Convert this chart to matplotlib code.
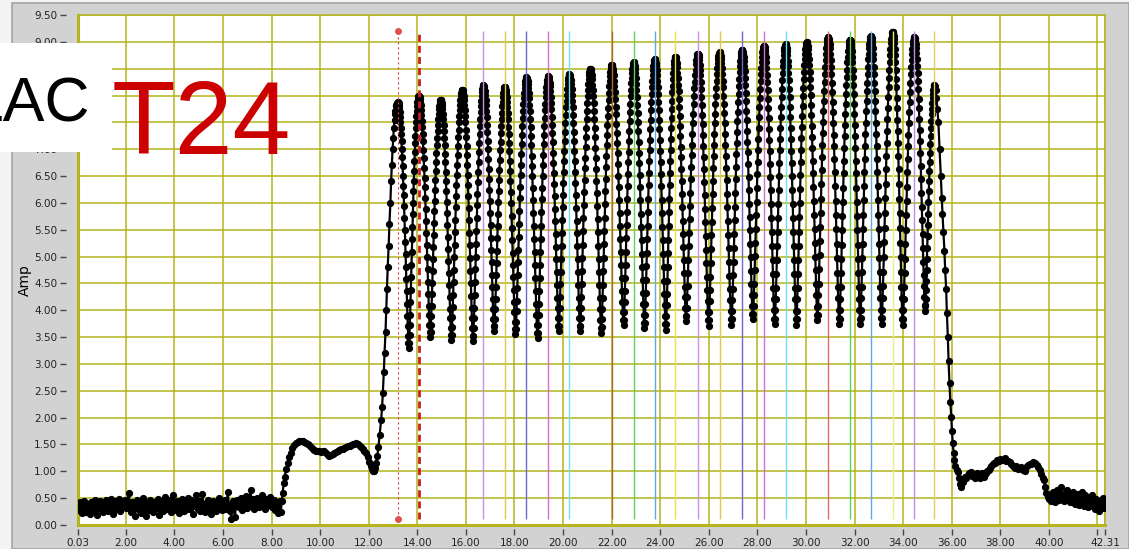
import numpy as np
import matplotlib
matplotlib.use("Agg")
import matplotlib.pyplot as plt
from matplotlib.patches import Rectangle

W, H = 1129, 549

# ---- data ----
# baseline noise, 0.03 .. 8.33, one reading every ~0.05
base_y = [0.38, 0.28, 0.42, 0.22, 0.35, 0.45, 0.30, 0.25, 0.40, 0.33,
          0.20, 0.43, 0.36, 0.27, 0.46, 0.31, 0.18, 0.39, 0.44, 0.29,
          0.35, 0.24, 0.41, 0.47, 0.32, 0.26, 0.38, 0.49, 0.34, 0.21,
          0.40, 0.45, 0.30, 0.36, 0.48, 0.27, 0.42, 0.33, 0.39, 0.46,
          0.31, 0.44, 0.60, 0.35, 0.25, 0.42, 0.38, 0.17, 0.40, 0.47,
          0.30, 0.36, 0.22, 0.45, 0.50, 0.33, 0.16, 0.41, 0.37, 0.28,
          0.46, 0.34, 0.24, 0.43, 0.39, 0.31, 0.48, 0.19, 0.36, 0.44,
          0.27, 0.41, 0.52, 0.35, 0.30, 0.46, 0.38, 0.25, 0.43, 0.56,
          0.33, 0.28, 0.45, 0.37, 0.22, 0.40, 0.48, 0.31, 0.26, 0.43,
          0.36, 0.51, 0.29, 0.39, 0.46, 0.21, 0.42, 0.35, 0.55, 0.30,
          0.44, 0.27, 0.38, 0.58, 0.33, 0.24, 0.41, 0.36, 0.47, 0.29,
          0.20, 0.39, 0.45, 0.32, 0.26, 0.43, 0.37, 0.50, 0.34, 0.28,
          0.41, 0.35, 0.46, 0.30, 0.62, 0.38, 0.27, 0.12, 0.44, 0.36,
          0.15, 0.40, 0.47, 0.33, 0.39, 0.50, 0.28, 0.43, 0.37, 0.54,
          0.31, 0.45, 0.40, 0.66, 0.35, 0.48, 0.29, 0.42, 0.51, 0.38,
          0.33, 0.46, 0.55, 0.36, 0.41, 0.30, 0.49, 0.44, 0.37, 0.52,
          0.40, 0.33, 0.47, 0.28, 0.42, 0.36, 0.22, 0.45]

# step up, hump, and first rising edge
hump_x = [8.38, 8.42, 8.45, 8.50, 8.54, 8.60, 8.66, 8.72, 8.79, 8.86,
          8.93, 9.00, 9.07, 9.14, 9.21, 9.28, 9.35, 9.42, 9.49, 9.55,
          9.62, 9.69, 9.76, 9.83, 9.90, 9.96, 10.03, 10.10, 10.17, 10.24,
          10.31, 10.38, 10.44, 10.51, 10.58, 10.65, 10.72, 10.79, 10.86, 10.93,
          11.00, 11.07, 11.14, 11.21, 11.27, 11.34, 11.41, 11.48, 11.55, 11.62,
          11.68, 11.75, 11.82, 11.89, 11.96, 12.03, 12.08, 12.12, 12.16, 12.20,
          12.25, 12.30, 12.35, 12.40, 12.45, 12.51, 12.55, 12.58, 12.62, 12.65,
          12.69, 12.72, 12.75, 12.78, 12.82, 12.85, 12.89, 12.92, 12.95, 12.98,
          13.01, 13.03, 13.06, 13.08, 13.10, 13.12, 13.14, 13.16, 13.18]
hump_y = [0.25, 0.45, 0.59, 0.78, 0.90, 1.05, 1.15, 1.26, 1.34, 1.43,
          1.49, 1.53, 1.55, 1.56, 1.57, 1.56, 1.55, 1.53, 1.50, 1.49,
          1.46, 1.42, 1.40, 1.38, 1.37, 1.37, 1.36, 1.38, 1.37, 1.34,
          1.31, 1.28, 1.30, 1.33, 1.35, 1.36, 1.37, 1.40, 1.41, 1.42,
          1.43, 1.45, 1.47, 1.48, 1.49, 1.50, 1.51, 1.52, 1.50, 1.48,
          1.46, 1.42, 1.38, 1.34, 1.26, 1.18, 1.10, 1.04, 1.00, 1.01,
          1.07, 1.15, 1.28, 1.46, 1.68, 1.96, 2.20, 2.46, 2.85, 3.20,
          3.60, 4.00, 4.40, 4.80, 5.20, 5.60, 6.00, 6.40, 6.70, 7.00,
          7.20, 7.40, 7.55, 7.65, 7.72, 7.80, 7.83, 7.86, 7.87]

# oscillation: peaks and troughs
peak_x = [13.20, 14.06, 14.96, 15.85, 16.72, 17.60, 18.49, 19.39, 20.26, 21.12,
          22.00, 22.90, 23.77, 24.62, 25.55, 26.44, 27.37, 28.27, 29.16, 30.03,
          30.91, 31.81, 32.67, 33.57, 34.46, 35.29]
peak_y = [7.88, 8.00, 7.92, 8.11, 8.19, 8.16, 8.34, 8.36, 8.40, 8.50,
          8.57, 8.62, 8.68, 8.72, 8.78, 8.81, 8.85, 8.93, 8.96, 8.99,
          9.09, 9.04, 9.10, 9.19, 9.09, 8.20]
trough_x = [13.65, 14.53, 15.40, 16.29, 17.16, 18.04, 18.95, 19.82, 20.70, 21.57,
            22.49, 23.35, 24.23, 25.06, 25.99, 26.93, 27.81, 28.71, 29.60, 30.47,
            31.37, 32.23, 33.11, 33.98, 34.90]
trough_y = [3.30, 3.50, 3.45, 3.43, 3.61, 3.55, 3.48, 3.62, 3.61, 3.58,
            3.72, 3.67, 3.64, 3.80, 3.71, 3.73, 3.83, 3.74, 3.73, 3.81,
            3.74, 3.74, 3.74, 3.73, 3.99]

# sample layout of one edge (trough -> peak), read from a single cycle
edge_phase = [0.000, 0.033, 0.067, 0.100, 0.133, 0.167, 0.200, 0.233, 0.267, 0.300,
              0.333, 0.367, 0.400, 0.433, 0.467, 0.500, 0.533, 0.567, 0.600, 0.633,
              0.667, 0.700, 0.733, 0.767, 0.800, 0.833, 0.867, 0.900, 0.933, 0.967,
              1.000]
edge_level = [0.000, 0.020, 0.050, 0.090, 0.130, 0.180, 0.230, 0.280, 0.330, 0.380,
              0.430, 0.480, 0.530, 0.575, 0.620, 0.660, 0.700, 0.740, 0.775, 0.810,
              0.840, 0.870, 0.895, 0.920, 0.940, 0.960, 0.975, 0.986, 0.994, 0.998,
              1.000]

# last falling edge and the step down
fall_x = [35.31, 35.34, 35.37, 35.41, 35.45, 35.50, 35.55, 35.59, 35.62, 35.66,
          35.70, 35.73, 35.77, 35.80, 35.84, 35.87, 35.91, 35.94, 35.98, 36.01,
          36.04, 36.08, 36.11, 36.15, 36.20, 36.25, 36.30, 36.35, 36.39, 36.45,
          36.50, 36.55, 36.60, 36.65, 36.70, 36.75, 36.80, 36.85, 36.90, 36.95,
          37.00, 37.05, 37.10, 37.15, 37.21, 37.26, 37.31, 37.36, 37.42, 37.47,
          37.52, 37.57, 37.63, 37.68, 37.73, 37.78, 37.83, 37.88, 37.93, 37.98,
          38.04, 38.11, 38.18, 38.25, 38.31, 38.38, 38.45, 38.52, 38.59, 38.66,
          38.73, 38.80, 38.87, 38.94, 39.00, 39.07, 39.14, 39.21, 39.28, 39.35,
          39.42, 39.49, 39.55, 39.62, 39.68, 39.74, 39.79, 39.85]
fall_y = [8.18, 8.10, 7.95, 7.75, 7.50, 7.00, 6.50, 6.10, 5.80, 5.45,
          5.10, 4.75, 4.40, 3.95, 3.50, 3.05, 2.64, 2.30, 2.02, 1.75,
          1.53, 1.35, 1.21, 1.10, 1.02, 0.99, 0.88, 0.76, 0.71, 0.80,
          0.86, 0.90, 0.88, 0.94, 0.97, 0.93, 0.99, 0.92, 0.95, 0.88,
          0.90, 0.96, 0.91, 0.88, 0.93, 0.97, 0.90, 0.95, 0.96, 1.00,
          1.03, 1.06, 1.09, 1.13, 1.15, 1.16, 1.18, 1.21, 1.19, 1.23,
          1.21, 1.22, 1.24, 1.20, 1.19, 1.18, 1.13, 1.10, 1.07, 1.09,
          1.04, 1.06, 1.08, 1.03, 1.01, 1.08, 1.12, 1.14, 1.13, 1.17,
          1.16, 1.12, 1.08, 1.02, 0.95, 0.88, 0.84, 0.70]

# noisy tail, 39.90 .. 42.31
tail_y = [0.59, 0.52, 0.48, 0.55, 0.45, 0.62, 0.50, 0.43, 0.58, 0.66,
          0.47, 0.55, 0.70, 0.52, 0.44, 0.60, 0.49, 0.65, 0.53, 0.42,
          0.57, 0.48, 0.61, 0.40, 0.52, 0.45, 0.58, 0.38, 0.50, 0.62,
          0.43, 0.36, 0.55, 0.47, 0.33, 0.50, 0.41, 0.56, 0.35, 0.45,
          0.30, 0.48, 0.38, 0.27, 0.44, 0.36, 0.50, 0.32, 0.41]

# cursors
cursor_x = [16.72, 17.60, 18.49, 19.39, 20.26, 22.00, 22.90, 23.77, 24.62, 25.55,
            26.44, 27.37, 28.27, 29.16, 30.91, 31.81, 32.67, 33.57, 34.46, 35.29]
cursor_lo, cursor_hi = 0.12, 9.20
dotted_cursor = 13.21
dashed_cursor = 14.06

xtick_vals = [0.03] + list(range(2, 42, 2)) + [42, 42.31]
xtick_text = ["0.03"] + ["%.2f" % v for v in range(2, 42, 2)] + ["", "42.31"]
ytick_vals = [i * 0.5 for i in range(20)]
# labels 7.50 .. 8.50 sit under the white name box in the screenshot
ytick_text = ["" if 7.4 < v < 8.6 else "%.2f" % v for v in ytick_vals]

# ---- styles ----
cursor_colors = ['#c890e8', '#e0c850', '#6a6ad0', '#d070c8', '#70e0f0',
                 '#b06a30', '#60d060', '#60a8e8', '#e8e050', '#c890e8',
                 '#e0c850', '#6a6ad0', '#d070c8', '#70e0f0', '#e06868',
                 '#60d060', '#60a8e8', '#eeee80', '#b890e8', '#e0d060']
grid_c = '#b4b41e'

# ---- assemble the trace ----
phase = np.array(edge_phase)
level = np.array(edge_level)
wx, wy = [], []
for i in range(len(peak_x) - 1):
    xs = trough_x[i] + (peak_x[i] - trough_x[i]) * phase
    ys = trough_y[i] + (peak_y[i] - trough_y[i]) * level
    wx += list(xs[::-1])
    wy += list(ys[::-1])
    xs = trough_x[i] + (peak_x[i + 1] - trough_x[i]) * phase
    ys = trough_y[i] + (peak_y[i + 1] - trough_y[i]) * level
    wx += list(xs[1:])
    wy += list(ys[1:])

base_x = np.linspace(0.03, 8.33, len(base_y))
tail_x = np.linspace(39.90, 42.31, len(tail_y))
x = np.concatenate([base_x, hump_x, wx, fall_x, tail_x])
y = np.concatenate([base_y, hump_y, wy, fall_y, tail_y])

# ---- figure ----
fig = plt.figure(figsize=(W / 100, H / 100), dpi=100)
fig.patch.set_facecolor('#f4f4f4')
fig.add_artist(Rectangle((12 / W, 0), 1 - 12 / W, 1 - 3 / H, transform=fig.transFigure,
                         facecolor='#d2d2d2', edgecolor='#a4a4a4', lw=1.2, zorder=-1))

ax = fig.add_axes([78 / W, 24 / H, (1105 - 78) / W, (525 - 15) / H])
ax.set_facecolor('white')
ax.set_xlim(0.03, 42.31)
ax.set_ylim(0, 9.5)

ax.set_xticks(xtick_vals)
ax.set_xticklabels(xtick_text)
ax.set_yticks(ytick_vals)
ax.set_yticklabels(ytick_text)
ax.grid(True, color=grid_c, lw=1.1, zorder=0)
ax.set_axisbelow(True)

ax.spines['left'].set_position(('outward', 9))
ax.spines['bottom'].set_position(('outward', 3))
ax.spines['left'].set_color('none')
ax.spines['bottom'].set_color('none')
for s in ['top', 'right']:
    ax.spines[s].set_color(grid_c)
    ax.spines[s].set_linewidth(1.1)
ax.axvline(0.03, color=grid_c, lw=2.2, clip_on=False, zorder=1)
ax.axhline(0, color=grid_c, lw=2.2, clip_on=False, zorder=1)

ax.tick_params(axis='both', direction='out', length=4, width=1, color='#444444',
               labelsize=7.5, labelcolor='#222222')
ax.tick_params(axis='y', pad=2)
ax.tick_params(axis='x', pad=2)

# cursors
ax.vlines(cursor_x, cursor_lo, cursor_hi, colors=cursor_colors, lw=1.0, zorder=4)
ax.vlines(dotted_cursor, cursor_lo, cursor_hi, colors='#d04848', lw=0.8,
          linestyles=(0, (2, 2.5)), zorder=4)
ax.plot([dotted_cursor, dotted_cursor], [cursor_lo, cursor_hi], ls='none',
        marker='o', ms=4, color='#e05050', zorder=5)
ax.vlines(dashed_cursor, cursor_lo, cursor_hi, colors='#c82020', lw=2.0,
          linestyles=(0, (2.5, 1.5)), zorder=4)

ax.plot(x, y, color='black', lw=1.6, marker='o', ms=4.2, zorder=3)

fig.text(25 / W, 1 - 280 / H, 'Amp', rotation=90, ha='center', va='center',
         fontsize=10, color='black')

# overlay label
fig.add_artist(Rectangle((0, 1 - 152 / H), 112 / W, 109 / H, transform=fig.transFigure,
                         facecolor='white', edgecolor='none', zorder=5))
fig.text(90 / W, 1 - 122 / H, 'LAC', fontsize=45, family='Liberation Sans',
         ha='right', va='baseline', color='black', zorder=6)
fig.text(112 / W, 1 - 154 / H, 'T24', fontsize=75, family='Liberation Sans',
         ha='left', va='baseline', color='#cc0000', zorder=6)

fig.savefig('out.png', dpi=100)
